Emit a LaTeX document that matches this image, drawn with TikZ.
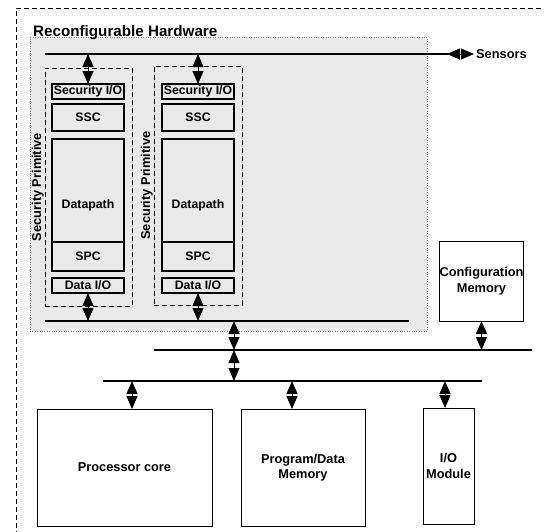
\documentclass[tikz,border=0pt]{standalone}
\usepackage{fontspec}
\setmainfont{Liberation Sans}
\usetikzlibrary{positioning, arrows.meta}
\definecolor{hwgray}{HTML}{E9E9E9}
\tikzset{
	txt/.style={font=\bfseries\fontsize{12.8}{15.5}\selectfont},
	blk/.style={font=\bfseries\fontsize{12.3}{15}\selectfont, draw, line width=1.2pt, minimum width=72pt, inner sep=0pt, outer sep=0pt},
	unit/.style={txt, draw, line width=0.9pt, align=center, inner sep=0pt, outer sep=0pt},
	prim/.style={draw, dash pattern=on 5pt off 3pt, line width=0.9pt, inner sep=0pt, outer sep=0pt},
	bus/.style={line width=2.8pt},
	dbl/.style={line width=1pt, {Triangle[width=11pt,length=13pt]}-{Triangle[width=11pt,length=13pt]}}
}
\begin{document}
\begin{tikzpicture}[x=1pt,y=-1pt]
	\path[use as bounding box, clip] (0,0) rectangle (544,531);
	\draw[dash pattern=on 5pt off 3pt, line width=0.8pt] (16,600) -- (16,8) -- (600,8);
	\node (hw)[draw=gray, dotted, fill=hwgray, minimum width=397pt, minimum height=294pt, inner sep=0pt] at (228.5,184) {};
	\node (hwlabel)[anchor=base west, inner sep=0pt, font=\bfseries\fontsize{15.2}{18}\selectfont] at (33,36) {Reconfigurable Hardware};
	\node (p1)[prim, minimum width=87pt, minimum height=238pt] at (88.5,187) {};
	\node (p2)[prim, minimum width=88pt, minimum height=239pt] at (198,185.5) {};
	\node (p1label)[txt, rotate=90, anchor=south, inner sep=1pt] at (p1.west) {Security Primitive};
	\node (p2label)[txt, rotate=90, anchor=south, inner sep=1pt] at (p2.west) {Security Primitive};
	\node (sio1)[blk, minimum height=15pt] at (88,91.5) {Security I/O};
	\node (ssc1)[blk, minimum height=27pt, below=5pt of sio1] {SSC};
	\node (dp1)[blk, minimum height=132pt, below=8pt of ssc1] {Datapath};
	\node (spc1)[blk, minimum height=29pt, anchor=south] at (dp1.south) {SPC};
	\node (dio1)[blk, minimum height=15pt, below=7pt of dp1] {Data I/O};
	\node (sio2)[blk, minimum height=15pt] at (198,91.5) {Security I/O};
	\node (ssc2)[blk, minimum height=27pt, below=5pt of sio2] {SSC};
	\node (dp2)[blk, minimum height=132pt, below=8pt of ssc2] {Datapath};
	\node (spc2)[blk, minimum height=29pt, anchor=south] at (dp2.south) {SPC};
	\node (dio2)[blk, minimum height=15pt, below=7pt of dp2] {Data I/O};
	\node (cfg)[unit, minimum width=81pt, minimum height=80pt] at (481.5,281) {Configuration\\Memory};
	\node (proc)[unit, minimum width=175pt, minimum height=117pt] at (124.5,467.5) {Processor core};
	\node (mem)[unit, minimum width=124pt, minimum height=117pt] at (303,467.5) {Program/Data\\Memory};
	\node (io)[unit, minimum width=51pt, minimum height=116pt] at (448.5,466) {I/O\\Module};
	\node (sens)[txt, anchor=west, inner sep=2pt] at (474,54) {Sensors};
	\coordinate (tbL) at (45,54);
	\coordinate (tbR) at (460,54);
	\coordinate (sensarr) at (447,54);
	\coordinate (ibL) at (45,321);
	\coordinate (ibR) at (409,321);
	\coordinate (b2L) at (154,350);
	\coordinate (b2R) at (532,350);
	\coordinate (b3L) at (103,381);
	\coordinate (b3R) at (482,381);
	\coordinate (up) at (234,321);
	\coordinate (mid) at (234,350);
	\coordinate (low) at (234,381);
	\coordinate (pa) at (132,381);
	\coordinate (ma) at (292,381);
	\coordinate (ia) at (445,381);
	\draw[bus] (tbL) -- (tbR);
	\draw[bus] (ibL) -- (ibR);
	\draw[bus] (b2L) -- (b2R);
	\draw[bus] (b3L) -- (b3R);
	\draw[dbl] (sensarr) -- (sens.west);
	\draw[dbl] (sio1.north |- tbL) -- (sio1.north);
	\draw[dbl] (sio2.north |- tbL) -- (sio2.north);
	\draw[dbl] (dio1.south) -- (dio1.south |- ibL);
	\draw[dbl] (dio2.south) -- (dio2.south |- ibL);
	\draw[dbl] (up) -- (mid);
	\draw[dbl] (mid) -- (low);
	\draw[dbl] (cfg.south) -- (cfg.south |- b2L);
	\draw[dbl] (pa) -- (pa |- proc.north);
	\draw[dbl] (ma) -- (ma |- mem.north);
	\draw[dbl] (ia) -- (ia |- io.north);
\end{tikzpicture}
\end{document}
